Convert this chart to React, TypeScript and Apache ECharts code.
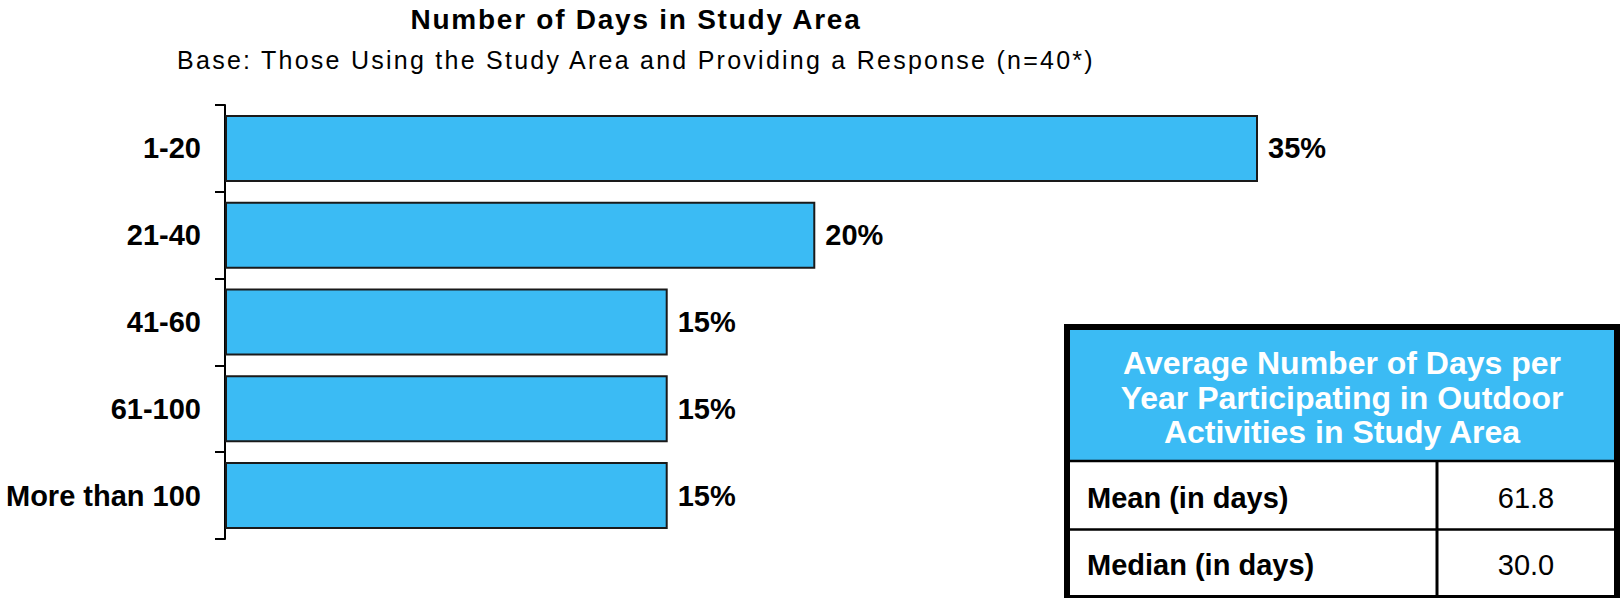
import React, { useEffect, useRef } from "react";
import * as echarts from "echarts";

const titleText = "Number of Days in Study Area";
const subtitleText = "Base: Those Using the Study Area and Providing a Response (n=40*)";
const categories = ["1-20", "21-40", "41-60", "61-100", "More than 100"];
const percentages = [35, 20, 15, 15, 15];
const tableHeader = ["Average Number of Days per", "Year Participating in Outdoor", "Activities in Study Area"];
const statLabels = ["Mean (in days)", "Median (in days)"];
const statValues = ["61.8", "30.0"];

const BLUE = "#3bbbf4";
const FONT = "'Liberation Sans', Arial, Helvetica, sans-serif";

export default function App() {
  const ref = useRef<HTMLDivElement>(null);

  useEffect(() => {
    document.body.style.margin = "0";
    if (!ref.current) return;
    const chart = echarts.init(ref.current, null, { renderer: "svg" });

    const tX0 = 1067, tY0 = 327, tX1 = 1617, tY1 = 598;
    const headerBottom = 461;
    const rowSep = 529.5;
    const colX = 1437;
    const rowCenters = [497.5, 564.5];

    const graphics: any[] = [
      {
        type: "text",
        x: 636,
        y: 19.5,
        style: {
          text: titleText,
          font: `bold 28px ${FONT}`,
          fill: "#000",
          textAlign: "center",
          textVerticalAlign: "middle",
        },
      },
      {
        type: "text",
        x: 636,
        y: 60,
        style: {
          text: subtitleText,
          font: `25px ${FONT}`,
          fill: "#000",
          textAlign: "center",
          textVerticalAlign: "middle",
        },
      },
      {
        type: "rect",
        shape: { x: tX0, y: tY0, width: tX1 - tX0, height: headerBottom - tY0 },
        style: { fill: BLUE },
      },
      {
        type: "rect",
        shape: { x: tX0, y: tY0, width: tX1 - tX0, height: tY1 - tY0 },
        style: { fill: "none", stroke: "#000", lineWidth: 6 },
      },
      {
        type: "line",
        shape: { x1: tX0, y1: headerBottom, x2: tX1, y2: headerBottom },
        style: { stroke: "#000", lineWidth: 2.5 },
      },
      {
        type: "line",
        shape: { x1: tX0, y1: rowSep, x2: tX1, y2: rowSep },
        style: { stroke: "#000", lineWidth: 2.5 },
      },
      {
        type: "line",
        shape: { x1: colX, y1: headerBottom, x2: colX, y2: tY1 },
        style: { stroke: "#000", lineWidth: 3 },
      },
    ];

    tableHeader.forEach((line, i) => {
      graphics.push({
        type: "text",
        x: 1342,
        y: 363 + i * 34.5,
        style: {
          text: line,
          font: `bold 32px ${FONT}`,
          fill: "#fff",
          textAlign: "center",
          textVerticalAlign: "middle",
        },
      });
    });

    statLabels.forEach((lab, i) => {
      graphics.push({
        type: "text",
        x: 1087,
        y: rowCenters[i],
        style: {
          text: lab,
          font: `bold 29px ${FONT}`,
          fill: "#000",
          textAlign: "left",
          textVerticalAlign: "middle",
        },
      });
      graphics.push({
        type: "text",
        x: 1526,
        y: rowCenters[i],
        style: {
          text: statValues[i],
          font: `29px ${FONT}`,
          fill: "#000",
          textAlign: "center",
          textVerticalAlign: "middle",
        },
      });
    });

    chart.setOption({
      animation: false,
      backgroundColor: "#fff",
      grid: { left: 225, top: 105, width: 1033, height: 434, containLabel: false },
      xAxis: {
        type: "value",
        min: 0,
        max: 35,
        show: false,
        splitLine: { show: false },
      },
      yAxis: {
        type: "category",
        data: categories,
        inverse: true,
        axisLine: { show: true, lineStyle: { color: "#000", width: 2 } },
        axisTick: { show: true, length: 10, lineStyle: { color: "#000", width: 2 } },
        axisLabel: {
          margin: 24,
          color: "#000",
          fontFamily: FONT,
          fontWeight: "bold",
          fontSize: 29,
        },
        splitLine: { show: false },
      },
      series: [
        {
          type: "bar",
          data: percentages,
          barWidth: 67,
          itemStyle: { color: BLUE, borderColor: "#1a1a1a", borderWidth: 2 },
          label: {
            show: true,
            position: "right",
            distance: 10,
            formatter: "{c}%",
            color: "#000",
            fontFamily: FONT,
            fontWeight: "bold",
            fontSize: 29,
          },
        },
      ],
      graphic: graphics,
    });

    const spacing: Record<string, string> = {
      [titleText]: "1.75",
      [subtitleText]: "2.25",
    };
    ref.current.querySelectorAll("text").forEach((t) => {
      const s = spacing[t.textContent || ""];
      if (s) t.setAttribute("letter-spacing", s);
    });

    return () => {
      chart.dispose();
    };
  }, []);

  return <div ref={ref} style={{ width: 1624, height: 598 }} />;
}
